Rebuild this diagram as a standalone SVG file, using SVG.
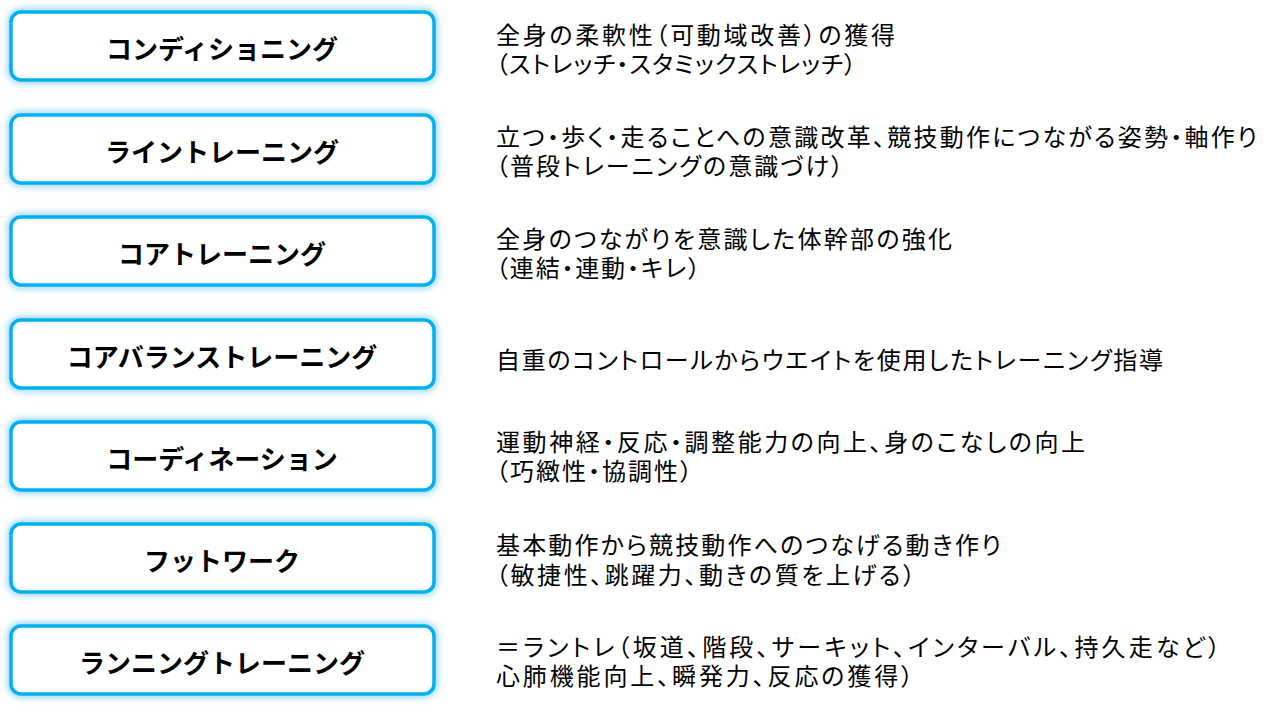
<svg xmlns="http://www.w3.org/2000/svg" width="1280" height="707" viewBox="0 0 1280 707">
<defs>
<filter id="glow" x="-10%" y="-30%" width="120%" height="160%">
<feGaussianBlur in="SourceGraphic" stdDeviation="3"/>
</filter>
<style>
.glow{fill:none;stroke:#9fd8f7;stroke-width:8;filter:url(#glow)}
.box{fill:#ffffff;stroke:#00b0f0;stroke-width:3.5}
.lbl{font-family:"Noto Sans CJK JP","Noto Sans CJK SC",sans-serif;font-size:26px;font-weight:bold;fill:#000;text-anchor:middle;dominant-baseline:central}
.desc{font-family:"Noto Sans CJK JP","Noto Sans CJK SC",sans-serif;font-size:24px;fill:#000;dominant-baseline:central;font-feature-settings:"palt"}
</style>
</defs>
<rect width="1280" height="707" fill="#ffffff"/>
<g id="node1">
<rect class="glow" x="11" y="12" width="423" height="68" rx="10"/>
<rect class="box" x="11" y="12" width="423" height="68" rx="10"/>
<text class="lbl" x="222" y="47">コンディショニング</text>
<text class="desc"><tspan x="496" y="33" textLength="399" lengthAdjust="spacing">全身の柔軟性（可動域改善）の獲得</tspan><tspan x="496" y="62" textLength="360" lengthAdjust="spacing">（ストレッチ・スタミックストレッチ）</tspan></text>
</g>
<g id="node2">
<rect class="glow" x="11" y="115" width="423" height="68" rx="10"/>
<rect class="box" x="11" y="115" width="423" height="68" rx="10"/>
<text class="lbl" x="222" y="150">ライントレーニング</text>
<text class="desc"><tspan x="496" y="135" textLength="761" lengthAdjust="spacing">立つ・歩く・走ることへの意識改革、競技動作につながる姿勢・軸作り</tspan><tspan x="496" y="164" textLength="347" lengthAdjust="spacing">（普段トレーニングの意識づけ）</tspan></text>
</g>
<g id="node3">
<rect class="glow" x="11" y="217" width="423" height="68" rx="10"/>
<rect class="box" x="11" y="217" width="423" height="68" rx="10"/>
<text class="lbl" x="222" y="252">コアトレーニング</text>
<text class="desc"><tspan x="496" y="237" textLength="456" lengthAdjust="spacing">全身のつながりを意識した体幹部の強化</tspan><tspan x="496" y="266" textLength="204" lengthAdjust="spacing">（連結・連動・キレ）</tspan></text>
</g>
<g id="node4">
<rect class="glow" x="11" y="320" width="423" height="68" rx="10"/>
<rect class="box" x="11" y="320" width="423" height="68" rx="10"/>
<text class="lbl" x="222" y="355">コアバランストレーニング</text>
<text class="desc" x="496" y="358" textLength="667" lengthAdjust="spacing">自重のコントロールからウエイトを使用したトレーニング指導</text>
</g>
<g id="node5">
<rect class="glow" x="11" y="422" width="423" height="68" rx="10"/>
<rect class="box" x="11" y="422" width="423" height="68" rx="10"/>
<text class="lbl" x="222" y="457">コーディネーション</text>
<text class="desc"><tspan x="496" y="440" textLength="589" lengthAdjust="spacing">運動神経・反応・調整能力の向上、身のこなしの向上</tspan><tspan x="496" y="469" textLength="196" lengthAdjust="spacing">（巧緻性・協調性）</tspan></text>
</g>
<g id="node6">
<rect class="glow" x="11" y="524" width="423" height="68" rx="10"/>
<rect class="box" x="11" y="524" width="423" height="68" rx="10"/>
<text class="lbl" x="222" y="559">フットワーク</text>
<text class="desc"><tspan x="496" y="543" textLength="505" lengthAdjust="spacing">基本動作から競技動作へのつなげる動き作り</tspan><tspan x="496" y="573" textLength="419" lengthAdjust="spacing">（敏捷性、跳躍力、動きの質を上げる）</tspan></text>
</g>
<g id="node7">
<rect class="glow" x="11" y="626" width="423" height="68" rx="10"/>
<rect class="box" x="11" y="626" width="423" height="68" rx="10"/>
<text class="lbl" x="222" y="661">ランニングトレーニング</text>
<text class="desc"><tspan x="496" y="645" textLength="724" lengthAdjust="spacing">＝ラントレ（坂道、階段、サーキット、インターバル、持久走など）</tspan><tspan x="496" y="674" textLength="417" lengthAdjust="spacing">心肺機能向上、瞬発力、反応の獲得）</tspan></text>
</g>
<g id="connectors"/>
</svg>
